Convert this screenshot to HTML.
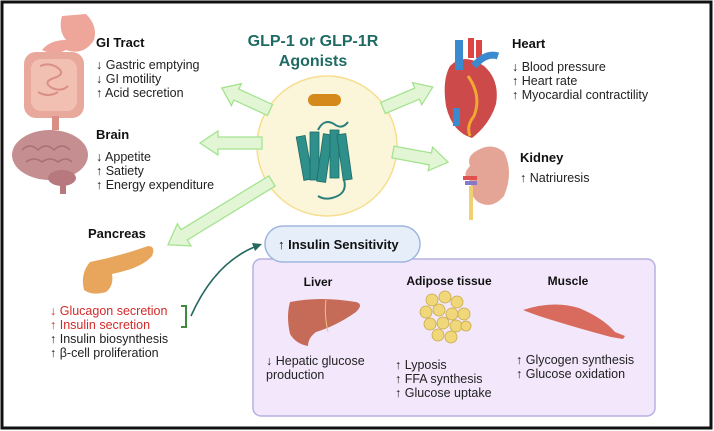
<!DOCTYPE html>
<html><head><meta charset="utf-8"><style>
html,body{margin:0;padding:0;background:#fff}
svg{display:block;font-family:"Liberation Sans",sans-serif}
</style></head><body>
<svg width="714" height="431" viewBox="0 0 714 431" xmlns="http://www.w3.org/2000/svg">
<rect x="2" y="2" width="709" height="426" fill="#fff" stroke="#111" stroke-width="3"/>

<!-- center circle -->
<circle cx="327" cy="146" r="70" fill="#fbf6d9" stroke="#f6de8e" stroke-width="1.5"/>
<text x="313" y="46" text-anchor="middle" font-size="16" font-weight="bold" fill="#1f6b63">GLP-1 or GLP-1R</text>
<text x="313" y="66" text-anchor="middle" font-size="16" font-weight="bold" fill="#1f6b63">Agonists</text>
<rect x="308" y="94" width="33" height="12" rx="6" fill="#d4891a"/>
<!-- receptor -->
<g fill="#2f8f8a" stroke="#1d6b67" stroke-width="0.8">
<path d="M318 130 q6 -12 16 -6 q8 6 14 -2" fill="none" stroke="#2a7f7a" stroke-width="2"/>
<rect x="300" y="136" width="9" height="44" transform="rotate(-10 304 158)"/>
<rect x="310" y="132" width="9" height="48"/>
<rect x="320" y="134" width="9" height="48" transform="rotate(8 324 158)"/>
<rect x="330" y="130" width="9" height="48"/>
<rect x="340" y="134" width="9" height="46" transform="rotate(-8 344 157)"/>
<path d="M344 180 q4 14 -12 18 q-8 2 -14 -2" fill="none" stroke="#2a7f7a" stroke-width="2"/>
</g>

<!-- block arrows -->
<g fill="#e2f6d6" stroke="#a4e38f" stroke-width="1.3">
<g transform="translate(270,110) rotate(204.6)"><polygon points="0,-6 37,-6 37,-12 53,0 37,12 37,6 0,6"/></g>
<g transform="translate(262,143) rotate(180)"><polygon points="0,-6 44,-6 44,-12 62,0 44,12 44,6 0,6"/></g>
<g transform="translate(272,181) rotate(148.5)"><polygon points="0,-6 103,-6 103,-13 122,0 103,13 103,6 0,6"/></g>
<g transform="translate(383,108) rotate(-22.8)"><polygon points="0,-6 37,-6 37,-12 54,0 37,12 37,6 0,6"/></g>
<g transform="translate(393,152) rotate(10.5)"><polygon points="0,-6 38,-6 38,-12 56,0 38,12 38,6 0,6"/></g>
</g>

<!-- GI tract -->
<path d="M62 16 q-4 14 4 24 q-16 0 -24 10 q12 6 24 0 q18 6 28 -10 q4 -14 -8 -26 z" fill="#eea59a"/>
<rect x="24" y="52" width="60" height="66" rx="12" fill="#e8a89c"/>
<rect x="31" y="59" width="46" height="52" rx="10" fill="#f2c0b2"/>
<path d="M40 66 q10 -4 18 2 q8 6 -4 10 q-12 4 -2 10 q10 4 16 -2 M38 92 q10 6 20 0" fill="none" stroke="#d98f85" stroke-width="2"/>
<rect x="52" y="116" width="7" height="14" fill="#d98f85"/>
<text x="96" y="47" font-size="13" font-weight="bold" fill="#111">GI Tract</text>
<text font-size="12.5" fill="#222"><tspan x="96" y="69">↓ Gastric emptying</tspan><tspan x="96" y="83">↓ GI motility</tspan><tspan x="96" y="97">↑ Acid secretion</tspan></text>

<!-- Brain -->
<ellipse cx="50" cy="155" rx="38" ry="25" fill="#c58f92"/>
<path d="M22 150 q8 -8 16 0 q8 -8 16 0 q8 -8 16 0 M26 162 q8 -6 16 0 q8 -6 16 0 q8 -6 14 0" fill="none" stroke="#a87076" stroke-width="1.5"/>
<ellipse cx="62" cy="178" rx="14" ry="8" fill="#b7797e"/>
<rect x="60" y="180" width="6" height="14" fill="#b7797e"/>
<text x="96" y="139" font-size="13" font-weight="bold" fill="#111">Brain</text>
<text font-size="12.5" fill="#222"><tspan x="96" y="161">↓ Appetite</tspan><tspan x="96" y="175">↑ Satiety</tspan><tspan x="96" y="189">↑ Energy expenditure</tspan></text>

<!-- Pancreas -->
<text x="88" y="238" font-size="13" font-weight="bold" fill="#111">Pancreas</text>
<path d="M90 262 q30 -6 58 -16 q8 0 4 10 q-10 12 -40 18 q2 12 -6 18 q-14 4 -22 -2 q-4 -16 6 -28 z" fill="#e8a55c"/>
<text font-size="12.5"><tspan x="50" y="315" fill="#d32a2a">↓ Glucagon secretion</tspan><tspan x="50" y="329" fill="#d32a2a">↑ Insulin secretion</tspan><tspan x="50" y="343" fill="#222">↑ Insulin biosynthesis</tspan><tspan x="50" y="357" fill="#222">↑ β-cell proliferation</tspan></text>
<path d="M181 306 h5 v21 h-5" fill="none" stroke="#3f8a3f" stroke-width="2"/>
<path d="M191 316 Q 215 262 257 246" fill="none" stroke="#24685e" stroke-width="1.6"/>
<polygon points="262,244 252,243 255,251" fill="#24685e"/>

<!-- Heart -->
<path d="M450 66 q14 -14 34 0 q16 14 12 38 q-6 20 -24 34 q-20 -6 -26 -32 q-4 -26 4 -40z" fill="#cc4a4a"/>
<path d="M468 76 q14 20 6 40 q-8 10 -4 20" fill="none" stroke="#f0a830" stroke-width="3"/>
<rect x="455" y="40" width="8" height="30" fill="#3a8ad0"/>
<rect x="468" y="38" width="6" height="20" fill="#d44"/>
<rect x="476" y="40" width="6" height="18" fill="#d44"/>
<path d="M474 66 q12 -14 24 -10" stroke="#3a8ad0" stroke-width="7" fill="none"/>
<rect x="453" y="108" width="7" height="18" fill="#3a8ad0"/>
<text x="512" y="48" font-size="13" font-weight="bold" fill="#111">Heart</text>
<text font-size="12.5" fill="#222"><tspan x="512" y="71">↓ Blood pressure</tspan><tspan x="512" y="85">↑ Heart rate</tspan><tspan x="512" y="99">↑ Myocardial contractility</tspan></text>

<!-- Kidney -->
<path d="M478 150 q14 -8 26 2 q10 20 0 44 q-12 14 -26 6 q-10 -8 -6 -20 q-12 -6 -2 -16 q-4 -10 8 -16z" fill="#e4a596"/>
<rect x="463" y="176" width="14" height="4" fill="#e05050"/>
<rect x="465" y="181" width="12" height="4" fill="#8878c8"/>
<rect x="469" y="186" width="4" height="34" fill="#f0d070"/>
<text x="520" y="162" font-size="13" font-weight="bold" fill="#111">Kidney</text>
<text x="520" y="182" font-size="12.5" fill="#222">↑ Natriuresis</text>

<!-- Insulin sensitivity box -->
<rect x="253" y="259" width="402" height="157" rx="8" fill="#f3e8fb" stroke="#b6b0e0" stroke-width="1.5"/>
<rect x="265" y="226" width="155" height="36" rx="18" fill="#e6eefa" stroke="#9fb7de" stroke-width="1.5"/>
<text x="278" y="249" font-size="13" font-weight="bold" fill="#111">↑ Insulin Sensitivity</text>

<text x="318" y="286" text-anchor="middle" font-size="12" font-weight="bold" fill="#111">Liver</text>
<text x="449" y="285" text-anchor="middle" font-size="12" font-weight="bold" fill="#111">Adipose tissue</text>
<text x="568" y="285" text-anchor="middle" font-size="12" font-weight="bold" fill="#111">Muscle</text>

<path d="M290 302 q30 -6 66 0 q8 2 0 10 q-20 14 -40 20 q-8 6 -8 14 q-12 -2 -18 -12 q-4 -18 0 -32z" fill="#c66b58"/>
<path d="M326 300 q-2 14 2 32" fill="none" stroke="#f0c080" stroke-width="1"/>

<g fill="#efd77a" stroke="#c8a84a" stroke-width="0.8">
<circle cx="432" cy="300" r="6"/><circle cx="445" cy="297" r="6"/><circle cx="457" cy="302" r="6"/>
<circle cx="426" cy="312" r="6"/><circle cx="439" cy="310" r="6"/><circle cx="452" cy="314" r="6"/><circle cx="464" cy="314" r="6"/>
<circle cx="430" cy="324" r="6"/><circle cx="443" cy="323" r="6"/><circle cx="456" cy="326" r="6"/><circle cx="466" cy="326" r="5"/>
<circle cx="438" cy="335" r="6"/><circle cx="451" cy="337" r="6"/>
</g>

<path d="M523 310 q30 -10 56 -2 q24 10 36 24 l10 4 l-2 3 l-12 -2 q-30 -8 -56 -16 q-20 -6 -32 -11z" fill="#d96b5e"/>

<text font-size="12.5" fill="#222"><tspan x="266" y="365">↓ Hepatic glucose</tspan><tspan x="266" y="379">production</tspan></text>
<text font-size="12.5" fill="#222"><tspan x="395" y="369">↑ Lyposis</tspan><tspan x="395" y="383">↑ FFA synthesis</tspan><tspan x="395" y="397">↑ Glucose uptake</tspan></text>
<text font-size="12.5" fill="#222"><tspan x="516" y="364">↑ Glycogen synthesis</tspan><tspan x="516" y="378">↑ Glucose oxidation</tspan></text>
</svg>
</body></html>
